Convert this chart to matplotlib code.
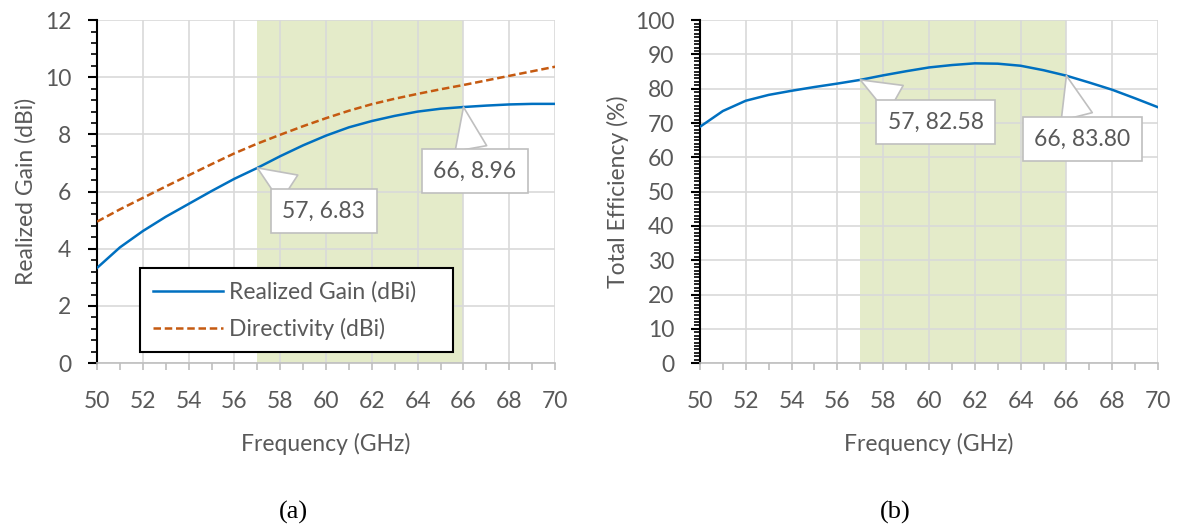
import numpy as np
import matplotlib.pyplot as plt
from matplotlib.ticker import MultipleLocator

plt.rcParams['font.family'] = ['Lato', 'DejaVu Sans']

# Data
freq = [50, 51, 52, 53, 54, 55, 56, 57, 58, 59, 60, 61, 62, 63, 64, 65, 66, 67, 68, 69, 70]
gain = [3.33, 4.05, 4.62, 5.12, 5.57, 6.02, 6.45, 6.83, 7.24, 7.62, 7.96, 8.25, 8.47, 8.65, 8.80, 8.90, 8.96, 9.01, 9.05, 9.07, 9.07]
directivity = [4.95, 5.38, 5.78, 6.18, 6.57, 6.96, 7.34, 7.68, 7.99, 8.29, 8.57, 8.83, 9.06, 9.25, 9.42, 9.58, 9.73, 9.89, 10.05, 10.21, 10.37]
efficiency = [68.9, 73.5, 76.5, 78.2, 79.4, 80.5, 81.5, 82.58, 83.9, 85.1, 86.2, 86.9, 87.4, 87.3, 86.7, 85.4, 83.8, 81.8, 79.7, 77.2, 74.6]

band = (57, 66)
callouts_a = [(57, 6.83, '57, 6.83', 59.9, 5.32), (66, 8.96, '66, 8.96', 66.5, 6.72)]
callouts_b = [(57, 82.58, '57, 82.58', 60.3, 70.3), (66, 83.80, '66, 83.80', 66.7, 65.3)]

blue = '#0070c0'
orange = '#c55a11'
shade = '#e4ebc9'
grid_c = '#d9d9d9'
txt_c = '#595959'
fs = 16.5

fig = plt.figure(figsize=(11.79, 5.24), dpi=100)
ax1 = fig.add_axes([0.0823, 0.307, 0.3885, 0.6546])
ax2 = fig.add_axes([0.5937, 0.307, 0.3885, 0.6546])


def style_axes(ax, ymax, ymajor, yminor):
    ax.set_xlim(50, 70)
    ax.set_ylim(0, ymax)
    ax.axvspan(band[0], band[1], color=shade, lw=0, zorder=0)
    ax.xaxis.set_major_locator(MultipleLocator(2))
    ax.xaxis.set_minor_locator(MultipleLocator(1))
    ax.yaxis.set_major_locator(MultipleLocator(ymajor))
    ax.yaxis.set_minor_locator(MultipleLocator(yminor))
    ax.grid(True, which='major', color=grid_c, lw=1.2, zorder=1)
    ax.set_axisbelow(True)
    for s in ['top', 'right']:
        ax.spines[s].set_visible(False)
    ax.spines['bottom'].set_color('#bfbfbf')
    ax.spines['bottom'].set_linewidth(1.2)
    ax.spines['left'].set_color('black')
    ax.spines['left'].set_linewidth(1.5)
    ax.tick_params(axis='x', which='both', colors='#bfbfbf', labelcolor=txt_c,
                   labelsize=fs, direction='out', length=5, width=1.2, pad=15)
    ax.tick_params(axis='y', which='major', colors='black', labelcolor=txt_c,
                   labelsize=fs, direction='out', length=6.5, width=1.5, pad=12)
    ax.tick_params(axis='y', which='minor', colors='black', direction='out', length=4.5, width=1.2)
    ax.set_xlabel('Frequency (GHz)', fontsize=fs, color=txt_c, labelpad=15)


def callout(ax, x, y, label, tx, ty):
    ax.annotate(label, xy=(x, y), xytext=(tx, ty), ha='center', va='center',
                fontsize=fs, color=txt_c, zorder=6,
                bbox=dict(boxstyle='square,pad=0.5', fc='white', ec='#bfbfbf', lw=1.2),
                arrowprops=dict(arrowstyle='wedge,tail_width=1.4,shrink_factor=0.5',
                                fc='white', ec='#bfbfbf', lw=1.2, shrinkA=0, shrinkB=0))


# (a) gain and directivity
style_axes(ax1, 12, 2, 0.4)
ax1.plot(freq, gain, color=blue, lw=1.8, label='Realized Gain (dBi)', zorder=3)
ax1.plot(freq, directivity, color=orange, lw=1.8, ls=(0, (3, 1.5)), label='Directivity (dBi)', zorder=3)
ax1.set_ylabel('Realized Gain (dBi)', fontsize=fs, color=txt_c, labelpad=6)
for c in callouts_a:
    callout(ax1, *c)
leg = ax1.legend(loc='lower left', bbox_to_anchor=(0.094, 0.032, 0.683, 0.245), mode='expand',
                 borderaxespad=0, fontsize=fs,
                 frameon=True, fancybox=False, edgecolor='black', framealpha=1,
                 handlelength=3.05, handletextpad=0.3, labelspacing=0.65, borderpad=0.55,
                 labelcolor=txt_c)
leg.get_frame().set_linewidth(1.5)
leg.set_zorder(7)

# (b) total efficiency
style_axes(ax2, 100, 10, 1)
ax2.plot(freq, efficiency, color=blue, lw=1.8, zorder=3)
ax2.set_ylabel('Total Efficiency (%)', fontsize=fs, color=txt_c, labelpad=4)
for c in callouts_b:
    callout(ax2, *c)

fig.text(0.2485, 0.0, '(a)', ha='center', va='bottom', fontsize=19, family='Liberation Serif')
fig.text(0.759, 0.0, '(b)', ha='center', va='bottom', fontsize=19, family='Liberation Serif')

plt.savefig('out.png', dpi=100)
plt.close()
